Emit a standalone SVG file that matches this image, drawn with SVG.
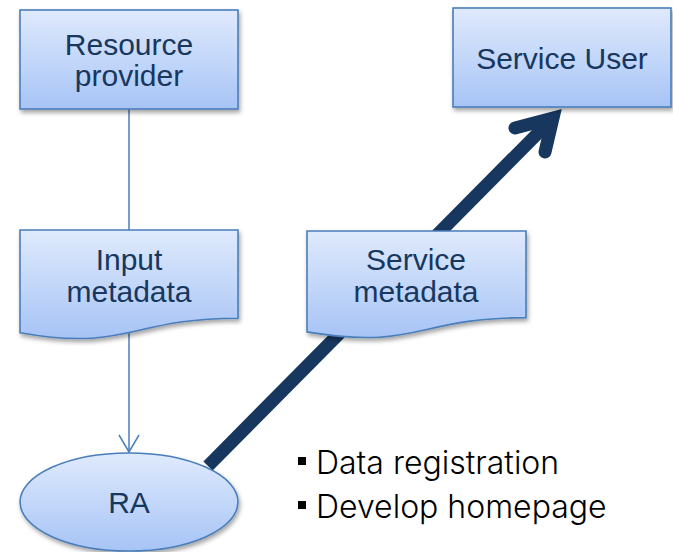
<svg xmlns="http://www.w3.org/2000/svg" width="673" height="552" viewBox="0 0 673 552">
<defs>
<linearGradient id="fillGrad" x1="0" y1="0" x2="0" y2="1">
<stop offset="0" stop-color="#dfeafc"/>
<stop offset="1" stop-color="#a7c4f6"/>
</linearGradient>
<filter id="shadow" x="-10%" y="-10%" width="125%" height="130%">
<feDropShadow dx="1.5" dy="3" stdDeviation="2" flood-color="#000" flood-opacity="0.35"/>
</filter>
<marker id="openArrow" viewBox="0 0 24 24" markerWidth="24" markerHeight="24" refX="20" refY="12" orient="auto" markerUnits="userSpaceOnUse">
<path d="M3,2 L20,12 L3,22" fill="none" stroke="#4a7ebb" stroke-width="1.5"/>
</marker>
<style>
.node{fill:url(#fillGrad);stroke:#4a7ebb;stroke-width:1.6;filter:url(#shadow)}
.lbl{font-family:"Liberation Sans",Arial,sans-serif;font-size:30px;fill:#17375e;text-anchor:middle}
.thin{stroke:#4a7ebb;stroke-width:1.5;fill:none}
.bold{stroke:#17375e;stroke-width:13;fill:none}
.bullet{font-family:"Inter","Liberation Sans",sans-serif;font-weight:300;font-size:32px;fill:#000}
</style>
</defs>
<rect width="673" height="552" fill="#ffffff"/>
<g id="connectors">
<line class="thin" x1="129" y1="109" x2="129" y2="230"/>
<line class="thin" x1="129" y1="333" x2="129" y2="452" marker-end="url(#openArrow)"/>
<line class="bold" x1="208" y1="466" x2="550" y2="121" stroke-linecap="butt"/>
<polyline class="bold" points="515,128 553,118 545,152" stroke-linejoin="miter" stroke-linecap="round"/>
</g>
<g id="resource-provider">
<rect class="node" x="20" y="10" width="218" height="99"/>
<text class="lbl" x="129" y="55">Resource</text>
<text class="lbl" x="129" y="86">provider</text>
</g>
<g id="service-user">
<rect class="node" x="453" y="8" width="218" height="99"/>
<text class="lbl" x="562" y="69">Service User</text>
</g>
<g id="input-metadata">
<path class="node" d="M20,230 H238 V318.2 C129,318.2 129,351.8 20,332.7 Z"/>
<text class="lbl" x="129" y="270">Input</text>
<text class="lbl" x="129" y="302">metadata</text>
</g>
<g id="service-metadata">
<path class="node" d="M307,231 H526 V317.6 C416.5,317.6 416.5,350.5 307,331.9 Z"/>
<text class="lbl" x="416" y="270">Service</text>
<text class="lbl" x="416" y="302">metadata</text>
</g>
<g id="ra">
<ellipse class="node" cx="129" cy="502" rx="109" ry="49"/>
<text class="lbl" x="129" y="513">RA</text>
</g>
<g id="notes">
<rect x="298" y="457" width="8" height="8" fill="#000"/>
<text class="bullet" x="316" y="474">Data registration</text>
<rect x="298" y="501" width="8" height="8" fill="#000"/>
<text class="bullet" x="316" y="518">Develop homepage</text>
</g>
</svg>
